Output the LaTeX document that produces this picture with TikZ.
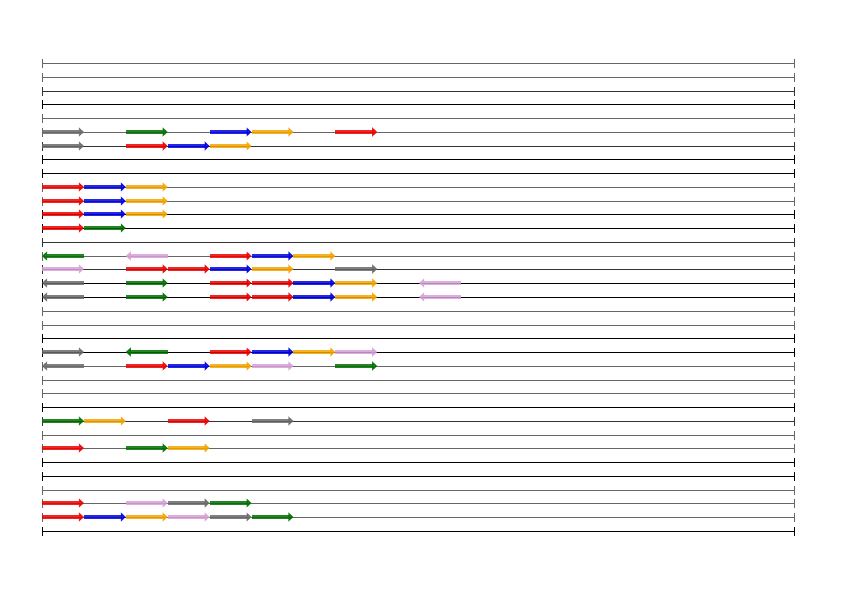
\documentclass[tikz,border=0pt]{standalone}
\usetikzlibrary{arrows.meta}
\definecolor{cgray}{RGB}{105,105,105}
\definecolor{cgreen}{RGB}{0,110,0}
\definecolor{cred}{RGB}{235,0,0}
\definecolor{cblue}{RGB}{0,0,225}
\definecolor{corange}{RGB}{245,165,0}
\definecolor{cplum}{RGB}{215,160,215}
\tikzset{
  track/.style={line width=1pt, {Bar[width=9pt,line width=1pt]}-{Bar[width=9pt,line width=1pt]}},
  gene/.style={line width=4pt, draw opacity=0.85, fill opacity=0.85, -{Triangle[length=5pt,width=9pt]}},
}
\newcommand\rowy[1]{round(63+13.765*#1)}
\newcommand\geneF[3]{\draw[gene,#3] ({42+41.9*#2},{\rowy{#1}}) -- ({83.9+41.9*#2},{\rowy{#1}});}
\newcommand\geneB[3]{\draw[gene,#3] ({83.9+41.9*#2},{\rowy{#1}}) -- ({42+41.9*#2},{\rowy{#1}});}
\begin{document}
\begin{tikzpicture}[x=1pt,y=-1pt]
\useasboundingbox (0,0) rectangle (842,595);
% tracks
\foreach \i/\c in {0/60,1/60,2/80,3/100,4/60,5/60,6/80,7/100,8/100,9/60,10/60,11/100,12/100,13/80,14/60,15/80,16/100,17/100,18/60,19/60,20/100,21/100,22/60,23/60,24/60,25/100,26/80,27/60,28/60,29/100,30/100,31/60,32/60,33/60,34/100}
  \draw[track,black!\c] (42,{\rowy{\i}}) coordinate (l\i) -- (795,{\rowy{\i}}) coordinate (r\i);
% row 5
\geneF{5}{0}{cgray}\geneF{5}{2}{cgreen}\geneF{5}{4}{cblue}\geneF{5}{5}{corange}\geneF{5}{7}{cred}
% row 6
\geneF{6}{0}{cgray}\geneF{6}{2}{cred}\geneF{6}{3}{cblue}\geneF{6}{4}{corange}
% rows 9-11
\foreach \r in {9,10,11}{\geneF{\r}{0}{cred}\geneF{\r}{1}{cblue}\geneF{\r}{2}{corange}}
% row 12
\geneF{12}{0}{cred}\geneF{12}{1}{cgreen}
% row 14
\geneB{14}{0}{cgreen}\geneB{14}{2}{cplum}\geneF{14}{4}{cred}\geneF{14}{5}{cblue}\geneF{14}{6}{corange}
% row 15
\geneF{15}{0}{cplum}\geneF{15}{2}{cred}\geneF{15}{3}{cred}\geneF{15}{4}{cblue}\geneF{15}{5}{corange}\geneF{15}{7}{cgray}
% rows 16-17
\foreach \r in {16,17}{\geneB{\r}{0}{cgray}\geneF{\r}{2}{cgreen}\geneF{\r}{4}{cred}\geneF{\r}{5}{cred}\geneF{\r}{6}{cblue}\geneF{\r}{7}{corange}\geneB{\r}{9}{cplum}}
% row 21
\geneF{21}{0}{cgray}\geneB{21}{2}{cgreen}\geneF{21}{4}{cred}\geneF{21}{5}{cblue}\geneF{21}{6}{corange}\geneF{21}{7}{cplum}
% row 22
\geneB{22}{0}{cgray}\geneF{22}{2}{cred}\geneF{22}{3}{cblue}\geneF{22}{4}{corange}\geneF{22}{5}{cplum}\geneF{22}{7}{cgreen}
% row 26
\geneF{26}{0}{cgreen}\geneF{26}{1}{corange}\geneF{26}{3}{cred}\geneF{26}{5}{cgray}
% row 28
\geneF{28}{0}{cred}\geneF{28}{2}{cgreen}\geneF{28}{3}{corange}
% row 32
\geneF{32}{0}{cred}\geneF{32}{2}{cplum}\geneF{32}{3}{cgray}\geneF{32}{4}{cgreen}
% row 33
\geneF{33}{0}{cred}\geneF{33}{1}{cblue}\geneF{33}{2}{corange}\geneF{33}{3}{cplum}\geneF{33}{4}{cgray}\geneF{33}{5}{cgreen}
\end{tikzpicture}
\end{document}
